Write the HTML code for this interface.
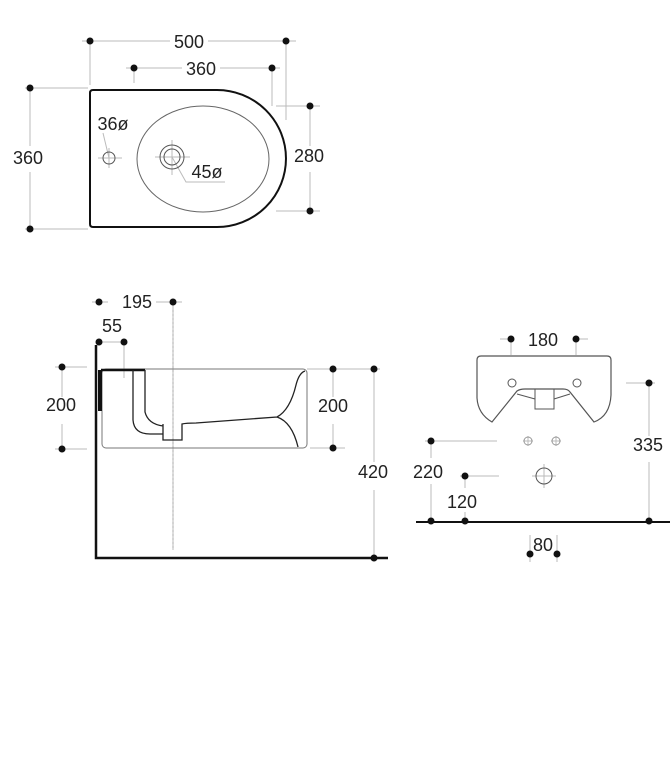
<!DOCTYPE html>
<html><head><style>html,body{margin:0;padding:0;background:#fff}svg{display:block}text{font-family:"Liberation Sans",sans-serif;font-size:18px;fill:#222;text-anchor:middle}</style></head>
<body>
<svg width="670" height="781" viewBox="0 0 670 781" xmlns="http://www.w3.org/2000/svg">
<g stroke="#bbb" stroke-width="1" fill="none">
<path d="M82 41H170M208 41H296M90 41V85M286 41V120"/>
<path d="M126 68H182M220 68H280M134 68V83M272 68V106M276 106H320M276 211H320M310 106V146M310 172V211"/>
<path d="M25 88H88M25 229H88M30 88V146M30 172V229"/>
<path d="M103 133L109 158M172 157L186 182H225"/>
<path d="M98 158H122M109 148V168M155 157H190M172 140V175"/>
<path d="M92 302H108M156 302H182M99 342H124M124 342V378M173 302V550" />
<path d="M55 367H87M55 449H87M62 367V397M62 424V449"/>
<path d="M307 369H380M310 448H345M333 369V397M333 424V448M374 369V462M374 490V558"/>
<path d="M500 339H513M576 339H588M511 339V355M576 339V355M626 383H655M649 383V436M649 462V521"/>
<path d="M425 441H497M431 441V458M431 484V521M460 476H499M465 476V488M465 512V521"/>
<path d="M530 535V562M557 535V562"/>
<path d="M523 441H533M528 436V446M551 441H561M556 436V446M532 476H556M544 464V488"/>
</g>
<g stroke="#aaa" stroke-width="1" fill="none" stroke-dasharray="2,2"><path d="M173 310V550"/></g>
<path d="M93 90H217A69 68.5 0 0 1 217 227H93Q90 227 90 224V93Q90 90 93 90Z" fill="none" stroke="#111" stroke-width="2"/>
<ellipse cx="203" cy="159" rx="66" ry="53" fill="none" stroke="#666" stroke-width="1"/>
<circle cx="172" cy="157" r="12" fill="none" stroke="#555"/>
<circle cx="172" cy="157" r="8" fill="none" stroke="#555"/>
<circle cx="109" cy="158" r="6" fill="none" stroke="#555"/>
<path d="M96 345V558H388" fill="none" stroke="#111" stroke-width="2.5"/>
<rect x="102" y="369" width="205" height="79" rx="4" fill="none" stroke="#777"/>
<path d="M100 370V411" stroke="#111" stroke-width="4"/>
<path d="M101 370H145" stroke="#111" stroke-width="2.5"/>
<path d="M133 370V420Q134 434 150 434H163M145 370V412Q148 424 163 426M163 424V440H182V424Q186 423 196 423L277 417Q290 410 296 385Q299 373 305 371M277 417Q292 422 298 447" fill="none" stroke="#222" stroke-width="1.3"/>
<path d="M481 356H607Q611 356 611 360V395Q610 416 594 422L570 392Q568 389 563 389H525Q520 389 517 391L492 422Q478 414 477 398V360Q477 356 481 356Z" fill="none" stroke="#555" stroke-width="1.2"/>
<path d="M535 389V409H554V389M517 394L535 399M554 399L570 394" fill="none" stroke="#555"/>
<circle cx="512" cy="383" r="4" fill="none" stroke="#555"/>
<circle cx="577" cy="383" r="4" fill="none" stroke="#555"/>
<circle cx="528" cy="441" r="4" fill="none" stroke="#999"/>
<circle cx="556" cy="441" r="4" fill="none" stroke="#999"/>
<circle cx="544" cy="476" r="8" fill="none" stroke="#555"/>
<path d="M416 522H670" stroke="#111" stroke-width="2"/>
<g fill="#111">
<circle cx="90" cy="41" r="3.5"/><circle cx="286" cy="41" r="3.5"/>
<circle cx="134" cy="68" r="3.5"/><circle cx="272" cy="68" r="3.5"/>
<circle cx="310" cy="106" r="3.5"/><circle cx="310" cy="211" r="3.5"/>
<circle cx="30" cy="88" r="3.5"/><circle cx="30" cy="229" r="3.5"/>
<circle cx="99" cy="302" r="3.5"/><circle cx="173" cy="302" r="3.5"/>
<circle cx="99" cy="342" r="3.5"/><circle cx="124" cy="342" r="3.5"/>
<circle cx="62" cy="367" r="3.5"/><circle cx="62" cy="449" r="3.5"/>
<circle cx="333" cy="369" r="3.5"/><circle cx="333" cy="448" r="3.5"/>
<circle cx="374" cy="369" r="3.5"/><circle cx="374" cy="558" r="3.5"/>
<circle cx="511" cy="339" r="3.5"/><circle cx="576" cy="339" r="3.5"/>
<circle cx="649" cy="383" r="3.5"/><circle cx="649" cy="521" r="3.5"/>
<circle cx="431" cy="441" r="3.5"/><circle cx="431" cy="521" r="3.5"/>
<circle cx="465" cy="476" r="3.5"/><circle cx="465" cy="521" r="3.5"/>
<circle cx="530" cy="554" r="3.5"/><circle cx="557" cy="554" r="3.5"/>
</g>
<text x="189" y="48">500</text>
<text x="201" y="75">360</text>
<text x="309" y="162">280</text>
<text x="28" y="164">360</text>
<text x="113" y="130">36ø</text>
<text x="207" y="178">45ø</text>
<text x="137" y="308">195</text>
<text x="112" y="332">55</text>
<text x="61" y="411">200</text>
<text x="333" y="412">200</text>
<text x="373" y="478">420</text>
<text x="543" y="346">180</text>
<text x="648" y="451">335</text>
<text x="428" y="478">220</text>
<text x="462" y="508">120</text>
<text x="543" y="551">80</text>
</svg>
</body></html>
